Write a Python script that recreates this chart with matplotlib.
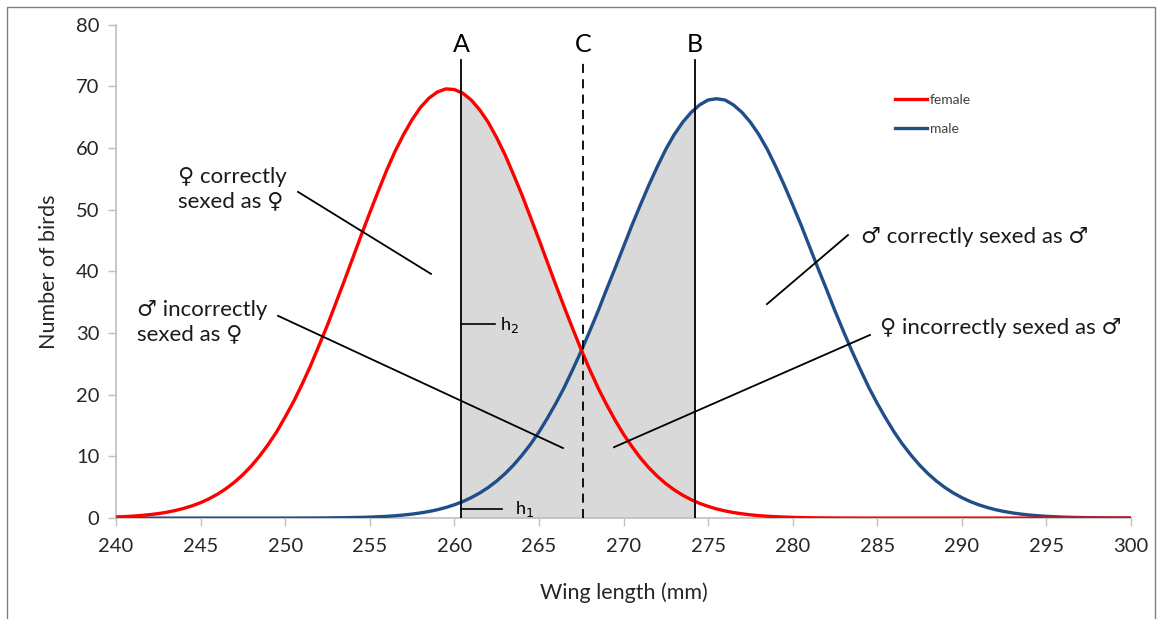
import matplotlib.pyplot as plt
from matplotlib.patches import Rectangle

plt.rcParams['font.family'] = ['Lato', 'DejaVu Sans']

# wing length (mm), every half mm, and number of birds
wing = [240 + 0.5 * i for i in range(121)]
female = [0.18, 0.24, 0.32, 0.43, 0.56, 0.73, 0.95, 1.23, 1.57, 1.99,
          2.50, 3.13, 3.88, 4.77, 5.82, 7.04, 8.46, 10.1, 11.95, 14.0,
          16.4, 18.9, 21.7, 24.7, 28.0, 31.3, 34.9, 38.5, 42.2, 45.9,
          49.5, 53.0, 56.4, 59.5, 62.2, 64.6, 66.6, 68.1, 69.1, 69.6,
          69.5, 68.9, 67.8, 66.2, 64.2, 61.7, 58.9, 55.7, 52.4, 48.8,
          45.2, 41.5, 37.8, 34.2, 30.7, 27.3, 24.1, 21.1, 18.4, 15.9,
          13.6, 11.6, 9.75, 8.16, 6.79, 5.59, 4.57, 3.71, 2.99, 2.39,
          1.90, 1.49, 1.17, 0.90, 0.70, 0.53, 0.40, 0.30, 0.23, 0.17,
          0.12, 0.09, 0.06, 0.04, 0.03, 0.02, 0.01, 0.01, 0, 0,
          0, 0, 0, 0, 0, 0, 0, 0, 0, 0,
          0, 0, 0, 0, 0, 0, 0, 0, 0, 0,
          0, 0, 0, 0, 0, 0, 0, 0, 0, 0, 0]
male = [0, 0, 0, 0, 0, 0, 0, 0, 0, 0,
        0, 0, 0, 0, 0, 0, 0, 0, 0, 0,
        0, 0, 0.01, 0.017, 0.02, 0.034, 0.05, 0.065, 0.09, 0.12,
        0.16, 0.22, 0.29, 0.38, 0.50, 0.65, 0.84, 1.07, 1.36, 1.72,
        2.16, 2.68, 3.32, 4.07, 4.96, 6.00, 7.21, 8.60, 10.2, 11.96,
        13.95, 16.2, 18.6, 21.2, 24.1, 27.1, 30.3, 33.6, 37.1, 40.5,
        44.0, 47.5, 50.8, 54.0, 57.0, 59.8, 62.2, 64.2, 65.8, 67.0,
        67.8, 68.0, 67.8, 67.0, 65.8, 64.2, 62.2, 59.8, 57.0, 54.0,
        50.8, 47.5, 44.0, 40.5, 37.1, 33.6, 30.3, 27.1, 24.1, 21.2,
        18.6, 16.2, 13.95, 11.96, 10.2, 8.60, 7.21, 6.00, 4.96, 4.07,
        3.32, 2.68, 2.16, 1.72, 1.36, 1.07, 0.84, 0.65, 0.50, 0.38,
        0.29, 0.22, 0.16, 0.12, 0.09, 0.065, 0.05, 0.034, 0.02, 0.017, 0.01]

# cut-off wing lengths
cut_a = 260.4
cut_b = 274.2
cut_c = 267.6

fig = plt.figure(figsize=(11.6, 6.19), dpi=100)
ax = fig.add_axes([0.1, 0.163, 0.875, 0.797])

# grey area between A and B under the upper curve
upper = [max(f, m) for f, m in zip(female, male)]
fill = ax.fill_between(wing, 0, upper, color='#D9D9D9', lw=0, zorder=1)
clip = Rectangle((cut_a, 0), cut_b - cut_a, 80, transform=ax.transData)
fill.set_clip_path(clip)

ax.plot(wing, male, color='#1F4E89', lw=2.4, label='male', zorder=3)
ax.plot(wing, female, color='#FF0000', lw=2.4, label='female', zorder=4)

top = 74.3
ax.plot([cut_a, cut_a], [0, top], color='black', lw=1.3, zorder=5)
ax.plot([cut_b, cut_b], [0, top], color='black', lw=1.3, zorder=5)
ax.plot([cut_c, cut_c], [0, top], color='black', lw=1.3, ls=(0, (5, 3.5)), zorder=5)
for xx, lab in [(cut_a, 'A'), (cut_c, 'C'), (cut_b, 'B')]:
    ax.text(xx, 76.8, lab, ha='center', va='center', fontsize=18)

# h1 / h2 markers
ax.plot([cut_a, 262.4], [31.5, 31.5], color='black', lw=1.2, zorder=5)
ax.text(262.7, 31.3, 'h$_2$', ha='left', va='center', fontsize=13)
ax.plot([cut_a, 262.8], [1.5, 1.5], color='black', lw=1.2, zorder=5)
ax.text(263.6, 1.5, 'h$_1$', ha='left', va='center', fontsize=13)

# labels with pointer lines
notes = [
    ('♀ correctly\nsexed as ♀', 243.66, 53.4, (250.76, 52.9), (258.62, 39.6)),
    ('♂ incorrectly\nsexed as ♀', 241.24, 31.8, (249.58, 32.8), (266.42, 11.36)),
    ('♂ correctly sexed as ♂', 284.04, 45.6, (283.27, 45.9), (278.48, 34.7)),
    ('♀ incorrectly sexed as ♂', 285.16, 30.8, (284.57, 29.7), (269.44, 11.5)),
]
for txt, tx, ty, p0, p1 in notes:
    ax.text(tx, ty, txt, ha='left', va='center', fontsize=16, color='#1a1a1a',
            linespacing=1.25)
    ax.plot([p0[0], p1[0]], [p0[1], p1[1]], color='black', lw=1.3, zorder=6)

ax.set_xlim(240, 300)
ax.set_ylim(0, 80)
ax.set_xticks(range(240, 301, 5))
ax.set_yticks(range(0, 81, 10))
ax.tick_params(axis='both', labelsize=14.5, labelcolor='#262626', color='#BFBFBF',
               length=6, width=1)
ax.tick_params(axis='x', direction='out', pad=8)
ax.tick_params(axis='y', pad=6)
for s in ['top', 'right']:
    ax.spines[s].set_visible(False)
for s in ['left', 'bottom']:
    ax.spines[s].set_color('#BFBFBF')
    ax.spines[s].set_linewidth(1.2)
ax.set_xlabel('Wing length (mm)', fontsize=15.5, color='#262626', labelpad=20)
ax.set_ylabel('Number of birds', fontsize=15.5, color='#262626', labelpad=12)

leg = ax.legend(handles=ax.lines[1:2] + ax.lines[0:1], loc='upper left',
                bbox_to_anchor=(0.755, 0.885), frameon=False, fontsize=10,
                handlelength=2.3, handletextpad=0.2, labelspacing=1.2)
for t in leg.get_texts():
    t.set_color('#404040')

# outer chart frame
fig.add_artist(Rectangle((7 / 1160, -0.02), 1148 / 1160, 1 - 7 / 619 + 0.02,
                         transform=fig.transFigure, fill=False,
                         edgecolor='#808080', lw=1))

fig.savefig('out.png', dpi=100)
